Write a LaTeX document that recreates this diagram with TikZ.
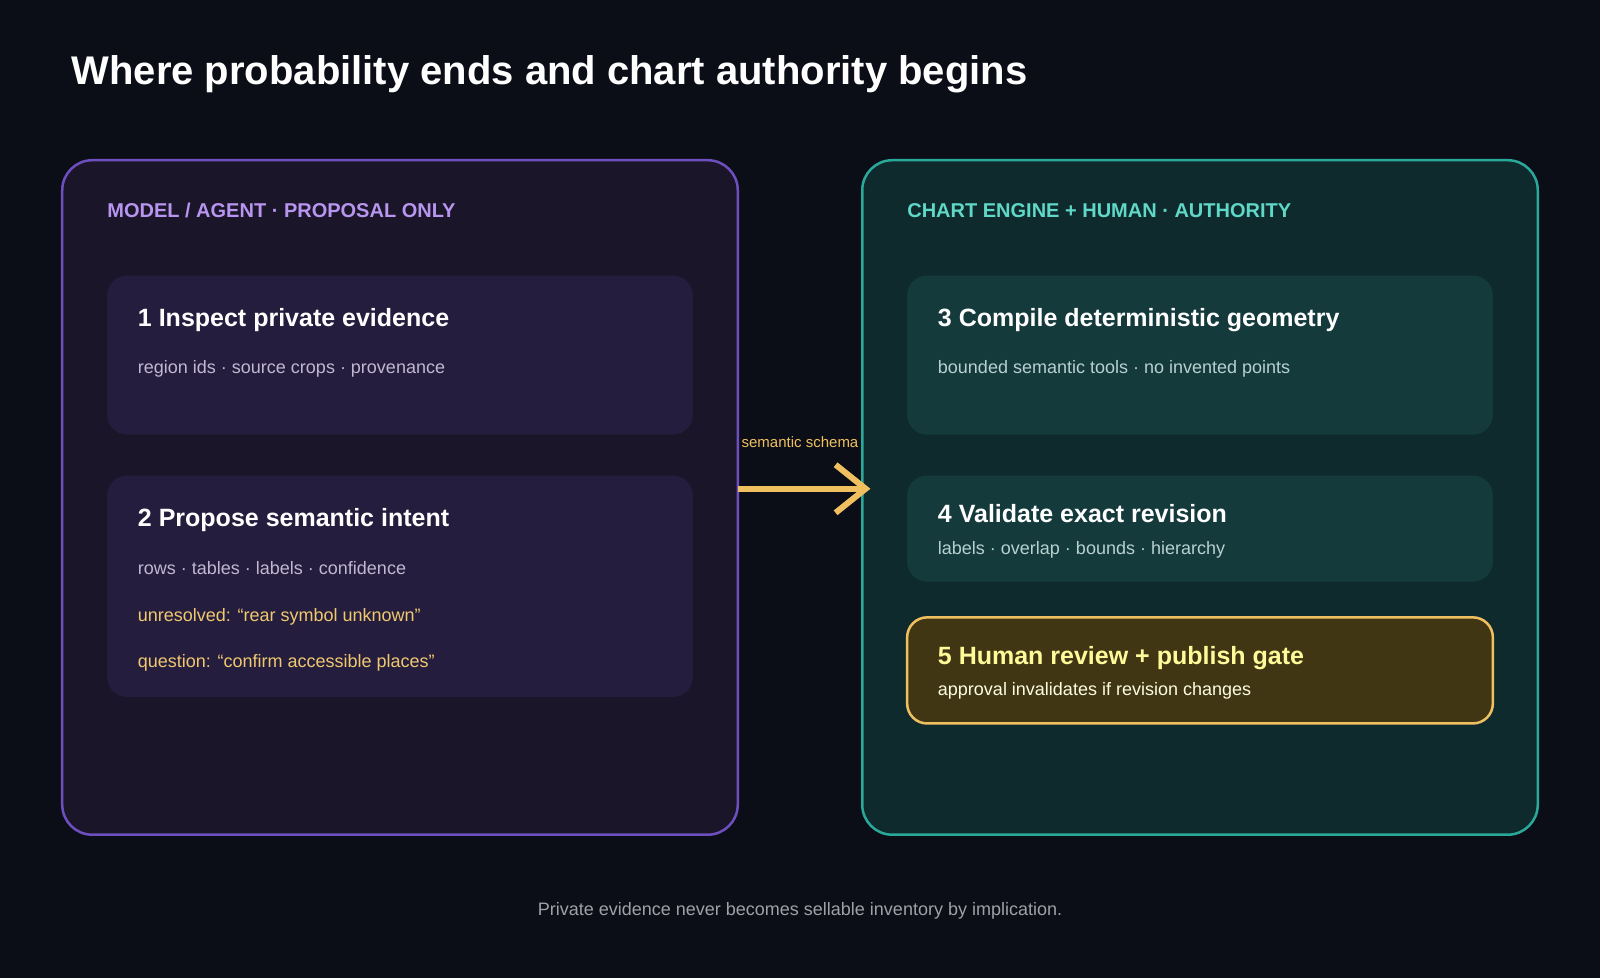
\documentclass[tikz,border=0pt]{standalone}
\usepackage{fontspec}
\setmainfont{Liberation Sans}
\usetikzlibrary{arrows.meta}
\definecolor{bg}{HTML}{0B0E16}
\definecolor{lpfill}{HTML}{1A1528}\definecolor{lpline}{HTML}{6D4FC0}
\definecolor{lbox}{HTML}{251D3D}\definecolor{lhead}{HTML}{B896F0}
\definecolor{rpfill}{HTML}{0F2A2D}\definecolor{rpline}{HTML}{2AA89A}
\definecolor{rbox}{HTML}{143A3C}\definecolor{rhead}{HTML}{5FD8C8}
\definecolor{gold}{HTML}{F0C060}\definecolor{goldfill}{HTML}{403614}
\definecolor{lsub}{HTML}{C0B8D0}\definecolor{rsub}{HTML}{B8D0D0}
\definecolor{warn}{HTML}{F0C870}\definecolor{foot}{HTML}{A0A0A8}
\begin{document}
\begin{tikzpicture}[x=1.0204pt,y=-1.0204pt,
  panel/.style={line width=2.5pt,rounded corners=30pt},
  box/.style={rounded corners=20pt},
  txt/.style={anchor=base west,inner sep=0pt},
  ttl/.style={txt,text=white,font=\bfseries\fontsize{25}{30}\selectfont},
  sub/.style={txt,font=\fontsize{18}{22}\selectfont},
  head/.style={txt,font=\bfseries\fontsize{20}{24}\selectfont}]
\fill[bg] (0,0) rectangle (1568,958.5);
\useasboundingbox (0,0) rectangle (1568,958.5);
\node[txt,text=white,font=\bfseries\fontsize{40}{48}\selectfont] (title) at (70,83) {Where probability ends and chart authority begins};
% left
\draw[panel,fill=lpfill,draw=lpline] (61,157) rectangle (723,818);
\coordinate (lp) at (723,479);
\node[head,text=lhead] (lh) at (105,213) {MODEL / AGENT · PROPOSAL ONLY};
\fill[box,lbox] (105,270) rectangle (679,426);
\node[ttl] (t1) at (135,320) {1 Inspect private evidence};
\node[sub,text=lsub] (s1) at (135,366) {region ids · source crops · provenance};
\fill[box,lbox] (105,466) rectangle (679,683);
\node[ttl] (t2) at (135,516) {2 Propose semantic intent};
\node[sub,text=lsub] (s2) at (135,563) {rows · tables · labels · confidence};
\node[sub,text=warn] (u2) at (135,609) {unresolved: “rear symbol unknown”};
\node[sub,text=warn] (q2) at (135,654) {question: “confirm accessible places”};
% right
\draw[panel,fill=rpfill,draw=rpline] (845,157) rectangle (1507,818);
\coordinate (rp) at (853,479);
\node[head,text=rhead] (rh) at (889,213) {CHART ENGINE + HUMAN · AUTHORITY};
\fill[box,rbox] (889,270) rectangle (1463,426);
\node[ttl] (t3) at (919,320) {3 Compile deterministic geometry};
\node[sub,text=rsub] (s3) at (919,366) {bounded semantic tools · no invented points};
\fill[box,rbox] (889,466) rectangle (1463,570);
\node[ttl] (t4) at (919,512) {4 Validate exact revision};
\node[sub,text=rsub] (s4) at (919,543) {labels · overlap · bounds · hierarchy};
\draw[box,fill=goldfill,draw=gold,line width=2.5pt] (889,605) rectangle (1463,709);
\node[ttl,text=yellow!40!white] (t5) at (919,651) {5 Human review + publish gate};
\node[sub,text=white!88!yellow] (s5) at (919,682) {approval invalidates if revision changes};
% arrow
\draw[gold,line width=6pt,-{Straight Barb[length=30pt,width=48pt]}] (lp) -- (rp);
\node[anchor=base,inner sep=0pt,text=gold,font=\fontsize{15}{18}\selectfont] (al) at (784,439) {semantic schema};
\node[anchor=base,inner sep=0pt,text=foot,font=\fontsize{18}{22}\selectfont] (ft) at (784,897) {Private evidence never becomes sellable inventory by implication.};
\end{tikzpicture}
\end{document}
